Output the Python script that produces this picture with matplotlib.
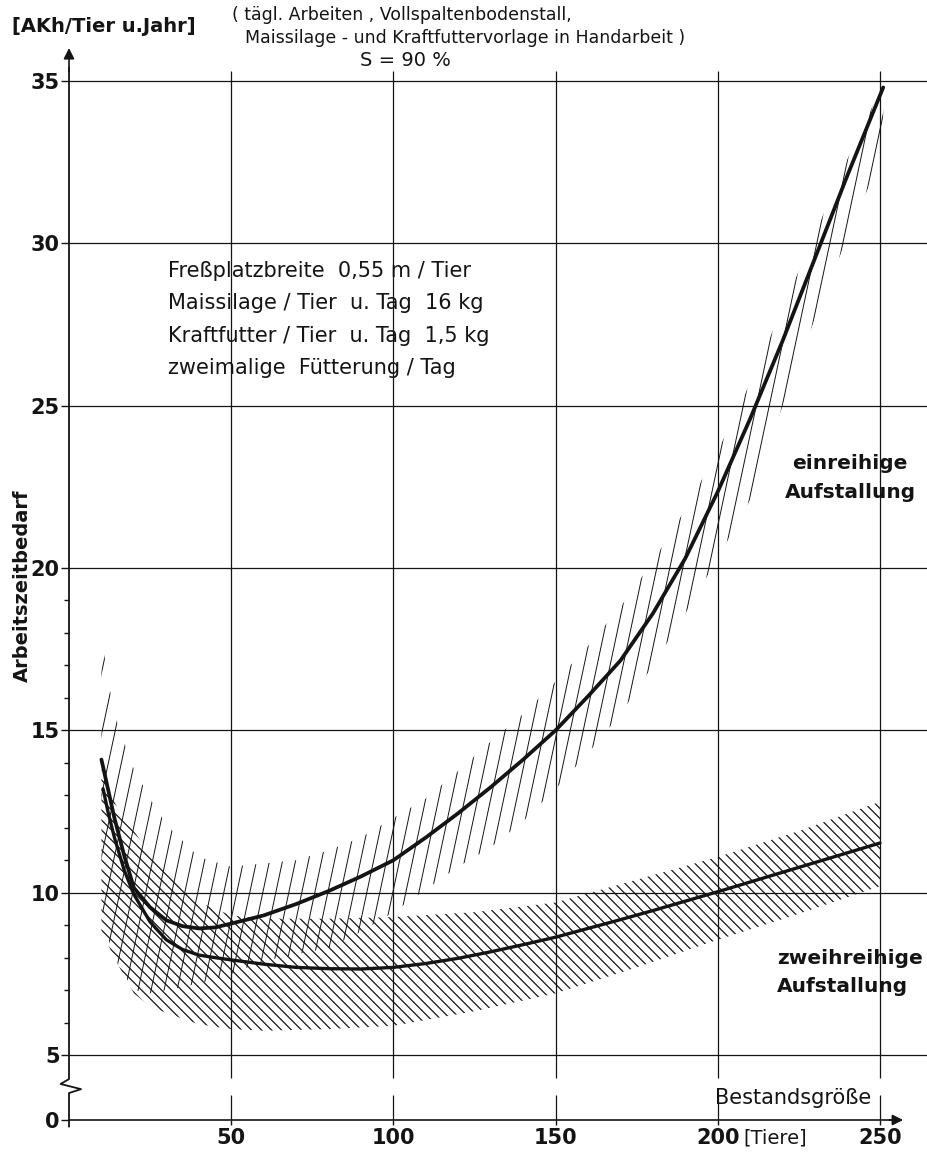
import numpy as np
import matplotlib
matplotlib.use("Agg")
import matplotlib.pyplot as plt
from matplotlib.collections import LineCollection
from matplotlib.patches import Polygon

plt.rcParams['font.family'] = ['DejaVu Sans']

INK = '#141414'

# Kurven (AKh/Tier u. Jahr über Bestandsgröße)
x_ein = [10, 12, 14, 17, 20, 25, 30, 35, 40, 45, 50, 60, 70, 80, 90, 100, 110, 120,
         130, 140, 150, 160, 170, 180, 190, 200, 210, 220, 230, 240, 251]
y_ein = [14.1, 13.2, 12.3, 11.15, 10.15, 9.55, 9.15, 8.97, 8.9, 8.93, 9.05, 9.3, 9.65,
         10.05, 10.5, 11.0, 11.7, 12.45, 13.25, 14.1, 15.0, 16.05, 17.15, 18.6, 20.3,
         22.35, 24.6, 27.0, 29.55, 32.1, 34.8]

x_zwei = [10.5, 12, 14, 17, 20, 25, 30, 35, 40, 45, 50, 60, 70, 80, 90, 100, 110, 120,
          130, 140, 150, 160, 170, 180, 190, 200, 210, 220, 230, 240, 250]
y_zwei = [13.2, 12.5, 11.7, 10.7, 9.95, 9.1, 8.55, 8.25, 8.08, 8.0, 7.93, 7.8, 7.7, 7.66,
          7.65, 7.7, 7.82, 7.98, 8.18, 8.4, 8.63, 8.9, 9.17, 9.45, 9.74, 10.03, 10.33,
          10.63, 10.93, 11.23, 11.53]

# Streubereiche (schraffiert)
band_ein_x = [10, 12, 15, 20, 25, 30, 40, 50, 60, 70, 80, 90, 100, 110, 120, 130, 140,
              150, 160, 170, 180, 190, 200, 210, 220, 230, 240, 251]
band_ein_hi = [18.0, 16.5, 15.2, 13.8, 12.9, 12.1, 11.1, 10.8, 10.9, 11.0, 11.3, 11.7,
               12.3, 12.9, 13.75, 14.65, 15.5, 16.5, 17.6, 18.8, 20.2, 21.8, 23.6, 25.7,
               28.0, 30.3, 32.6, 34.9]
band_ein_lo = [9.6, 8.6, 7.8, 7.0, 6.9, 7.0, 7.2, 7.5, 7.9, 8.1, 8.3, 8.8, 9.4, 10.1,
               10.8, 11.4, 12.2, 13.2, 14.3, 15.5, 17.0, 18.6, 20.3, 22.1, 25.0, 27.7,
               30.2, 32.8]

band_zwei_x = [10, 12, 15, 20, 25, 30, 40, 50, 60, 80, 100, 125, 150, 175, 200, 225, 250]
band_zwei_hi = [13.8, 13.2, 12.6, 11.9, 11.2, 10.6, 9.7, 9.3, 9.2, 9.2, 9.25, 9.4, 9.7,
                10.4, 11.1, 11.9, 12.8]
band_zwei_lo = [8.8, 8.4, 7.8, 6.9, 6.5, 6.3, 5.95, 5.8, 5.75, 5.8, 5.9, 6.35, 6.9, 7.7,
                8.55, 9.35, 10.2]

x_ticks = [50, 100, 150, 200, 250]
y_ticks = [5, 10, 15, 20, 25, 30, 35]
y_minor = [6, 7, 8, 9, 11, 12, 13, 14, 16, 17, 18, 19]

info_lines = ["Freßplatzbreite  0,55 m / Tier",
              "Maissilage / Tier  u. Tag  16 kg",
              "Kraftfutter / Tier  u. Tag  1,5 kg",
              "zweimalige  Fütterung / Tag"]

W, H = 927, 1153
fig = plt.figure(figsize=(W / 100, H / 100), dpi=100)
ax = fig.add_axes([69 / W, 33 / H, 858 / W, 1104 / H])
ax.set_xlim(0, 264.5)
ax.set_ylim(3, 37)   # 3 steht für die "0" unterhalb des Achsenbruchs
for s in ax.spines.values():
    s.set_visible(False)


def hatch_band(bx, lo, hi, angle, step_px, lw):
    poly = Polygon(np.column_stack([np.r_[bx, bx[::-1]], np.r_[lo, hi[::-1]]]),
                   closed=True, fc='none', ec='none')
    ax.add_patch(poly)
    (x0, y0), (x1, y1) = ax.transData.transform([(0, 0), (1, 1)])
    sx, sy = x1 - x0, y1 - y0
    m = np.tan(np.radians(angle)) * sx / sy
    segs = [[(c, 3), (c + 34 / m, 37)] for c in np.arange(-400, 700, step_px / sx)]
    lc = LineCollection(segs, colors=INK, linewidths=lw)
    ax.add_collection(lc, autolim=False)
    lc.set_clip_path(poly)


# Gitter
ax.hlines(y_ticks, 0, 264.5, color=INK, lw=0.9)
ax.vlines(x_ticks, 4.3, 35.3, color=INK, lw=0.9)
ax.vlines(x_ticks, 3, 3.77, color=INK, lw=0.9)

hatch_band(band_ein_x, band_ein_lo, band_ein_hi, 78, 13, 0.7)
hatch_band(band_zwei_x, band_zwei_lo, band_zwei_hi, -45, 10, 0.9)

ax.plot(x_ein, y_ein, color=INK, lw=2.7, solid_capstyle='round')
ax.plot(x_zwei, y_zwei, color=INK, lw=2.4, solid_capstyle='round')

# Achsen mit Bruch und Pfeilen
ax.plot([0, 0, 3.7, -2.6, 0, 0], [2.8, 3.83, 3.95, 4.11, 4.26, 35.4],
        color=INK, lw=1.3, clip_on=False)
ax.plot([0, 255], [3, 3], color=INK, lw=1.2, clip_on=False)
ax.annotate('', xy=(0, 36.1), xytext=(0, 35.2),
            arrowprops=dict(arrowstyle='-|>', color=INK, lw=1.2, mutation_scale=16),
            annotation_clip=False)
ax.annotate('', xy=(258, 3), xytext=(252, 3),
            arrowprops=dict(arrowstyle='-|>', color=INK, lw=1.2, mutation_scale=16),
            annotation_clip=False)

ax.set_yticks([3] + y_ticks, labels=['0'] + [str(v) for v in y_ticks])
ax.set_yticks(y_minor, minor=True)
ax.set_xticks(x_ticks, labels=[str(v) for v in x_ticks])
ax.tick_params(axis='y', which='major', direction='out', length=5.8, width=1,
               labelsize=15, pad=1, colors=INK)
ax.tick_params(axis='y', which='minor', direction='out', length=3.6, width=1, colors=INK)
ax.tick_params(axis='x', which='major', direction='out', length=3.6, width=1,
               labelsize=15, pad=2, colors=INK)
for lab in ax.get_xticklabels() + ax.get_yticklabels():
    lab.set_fontweight('bold')


# Texte
def ftext(px, py, s, **kw):
    fig.text(px / W, 1 - py / H, s, color=INK, **kw)


ftext(12, 27, "[AKh/Tier u.Jahr]", fontsize=14, fontweight='bold', ha='left', va='center')
ftext(232, 15, "( tägl. Arbeiten , Vollspaltenbodenstall,", fontsize=12.5,
      ha='left', va='center')
ftext(245, 38, "Maissilage - und Kraftfuttervorlage in Handarbeit )", fontsize=12.5,
      ha='left', va='center')
ftext(405, 60, "S = 90 %", fontsize=14, ha='center', va='center')
ftext(22, 586, "Arbeitszeitbedarf", fontsize=14, fontweight='bold', rotation=90,
      ha='center', va='center')

for i, line in enumerate(info_lines):
    ftext(168, 271 + 32.3 * i, line, fontsize=15, ha='left', va='center')

ftext(850, 463, "einreihige", fontsize=14.5, fontweight='bold', ha='center', va='center')
ftext(850, 492, "Aufstallung", fontsize=14.5, fontweight='bold', ha='center', va='center')
ftext(777, 958, "zweihreihige", fontsize=14.5, fontweight='bold', ha='left', va='center')
ftext(777, 986, "Aufstallung", fontsize=14.5, fontweight='bold', ha='left', va='center')
ftext(715, 1098, "Bestandsgröße", fontsize=15, ha='left', va='center')
ftext(775, 1138, "[Tiere]", fontsize=14, ha='center', va='center')

fig.savefig("out.png", dpi=100)
